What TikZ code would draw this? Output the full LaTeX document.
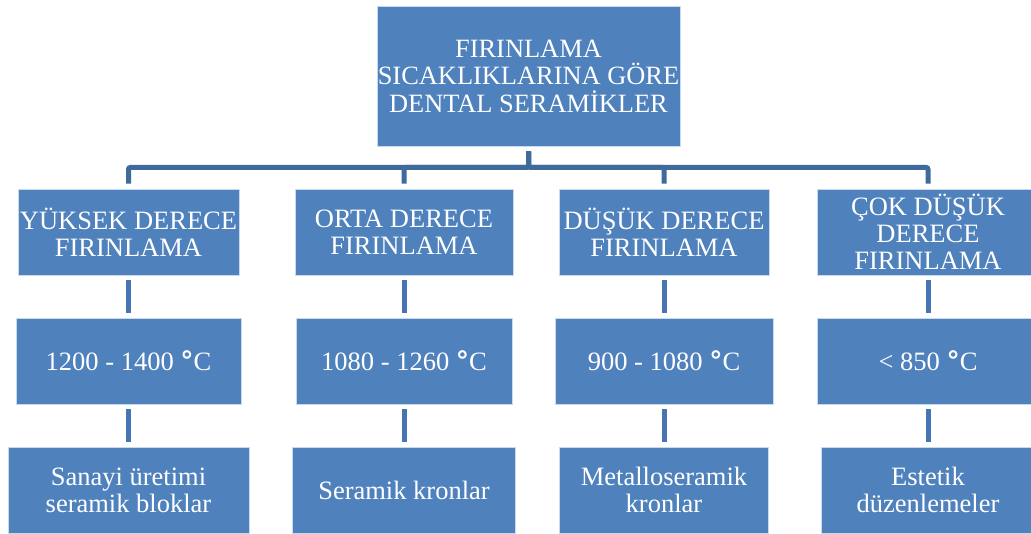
\documentclass[tikz,border=0pt]{standalone}
\usepackage{fontspec}
\setmainfont{Liberation Serif}
\newfontfamily\degfont{DejaVu Sans}
\definecolor{boxblue}{HTML}{4F81BD}
\definecolor{barblue}{HTML}{3E6A9C}
\definecolor{linkblue}{HTML}{4676B2}
\tikzset{
  box/.style={rectangle, fill=boxblue, draw=white!70!boxblue, line width=0.8pt,
    inner sep=0pt, align=center, text=white,
    font=\fontsize{26.5}{27}\selectfont},
  topbox/.style={box, font=\fontsize{26.4}{27.5}\selectfont},
  bar/.style={draw=barblue, line width=5pt, rounded corners=2pt,
    shorten <=5pt, shorten >=5pt},
  link/.style={draw=linkblue, line width=5pt, shorten <=5pt, shorten >=5pt},
}
\newcommand{\degC}{{\degfont\bfseries °}C}
\begin{document}
\begin{tikzpicture}[x=1pt,y=-1pt]
\useasboundingbox (0,0) rectangle (1031,533);
\clip (0,0) rectangle (1031,533);
\node[topbox, minimum width=303pt, minimum height=140pt] (top) at (528.5,76)
  {FIRINLAMA\\SICAKLIKLARINA GÖRE\\DENTAL SERAMİKLER};
% row 2
\node[box, minimum width=221pt, minimum height=86pt] (b1) at (128.5,232) {YÜKSEK DERECE\\FIRINLAMA};
\node[box, minimum width=218pt, minimum height=86pt] (b2) at (404,232) {ORTA DERECE\\FIRINLAMA};
\node[box, minimum width=210pt, minimum height=86pt] (b3) at (664,232) {DÜŞÜK DERECE\\FIRINLAMA};
\node[box, minimum width=222pt, minimum height=86pt] (b4) at (928,232) {ÇOK DÜŞÜK\\DERECE\\FIRINLAMA};
% row 3
\node[box, minimum width=225pt, minimum height=86pt] (c1) at (128.5,361) {1200 - 1400 \degC};
\node[box, minimum width=216pt, minimum height=86pt] (c2) at (404,361) {1080 - 1260 \degC};
\node[box, minimum width=218pt, minimum height=86pt] (c3) at (664,361) {900 - 1080 \degC};
\node[box, minimum width=222pt, minimum height=86pt] (c4) at (928,361) {< 850 \degC};
% row 4
\node[box, minimum width=241pt, minimum height=86pt] (d1) at (128.5,490) {Sanayi üretimi\\seramik bloklar};
\node[box, minimum width=223pt, minimum height=86pt] (d2) at (404,490) {Seramik kronlar};
\node[box, minimum width=209pt, minimum height=86pt] (d3) at (664,490) {Metalloseramik\\kronlar};
\node[box, minimum width=214pt, minimum height=86pt] (d4) at (928,490) {Estetik\\düzenlemeler};
% tree connectors
\foreach \b in {b1,b2,b3,b4}{
  \draw[bar] (top.south) -- ++(0,21) -| (\b.north);
}
\foreach \u/\v in {b1/c1,b2/c2,b3/c3,b4/c4,c1/d1,c2/d2,c3/d3,c4/d4}{
  \draw[link] (\u.south) -- (\v.north);
}
\end{tikzpicture}
\end{document}
